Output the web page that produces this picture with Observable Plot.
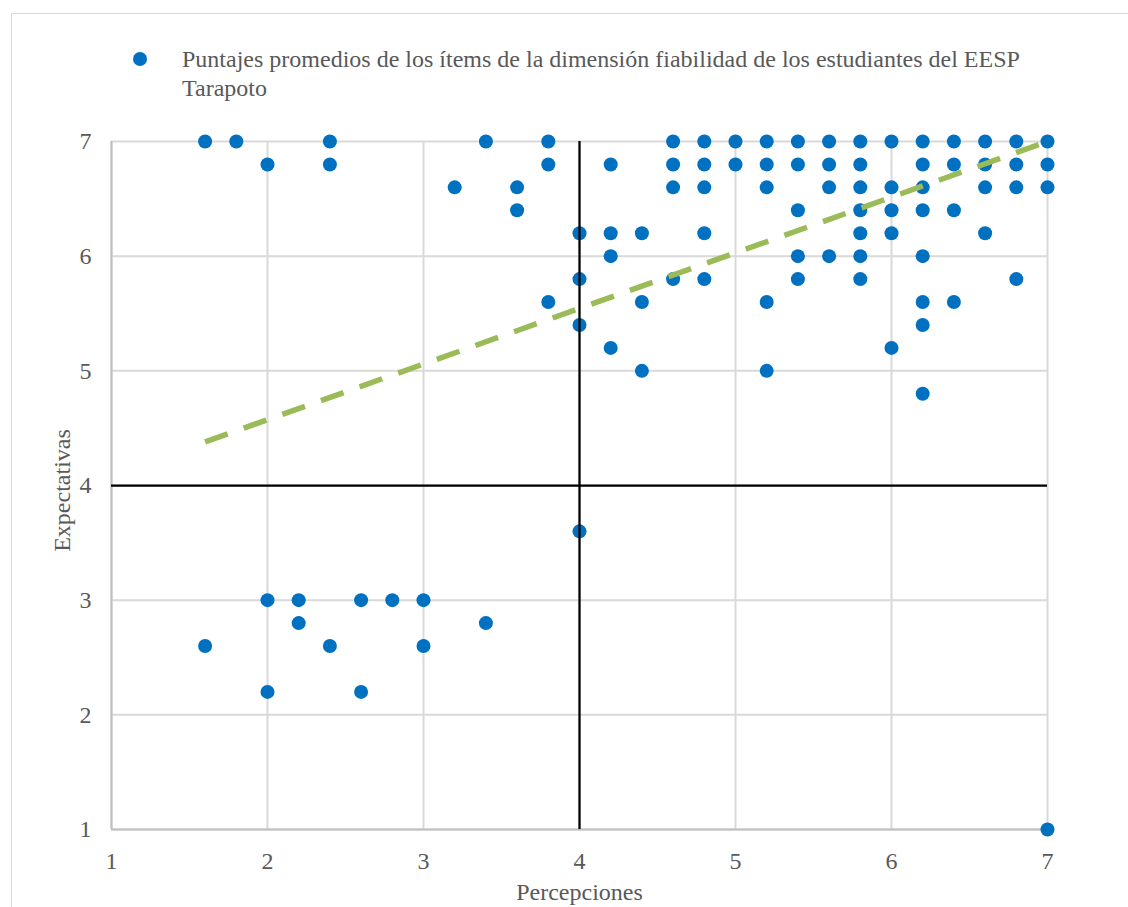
<!DOCTYPE html>
<html>
<head>
<meta charset="utf-8">
<script src="https://cdn.jsdelivr.net/npm/d3@7"></script>
<script src="https://cdn.jsdelivr.net/npm/@observablehq/plot@0.6"></script>
<style>
  body { margin: 0; background: #fff; overflow: hidden; font-family: "Liberation Serif", "Times New Roman", serif; }
  #wrap { position: relative; width: 1128px; height: 907px; }
  #frame { position: absolute; left: 11px; top: 13px; width: 1300px; height: 1100px; border: 1px solid #D9D9D9; pointer-events: none; z-index: 2; }
  #legend { position: relative; height: 110px; color: #595959; font-size: 24px; }
  #legend .dot { position: absolute; left: 133px; top: 52px; width: 14px; height: 14px; border-radius: 50%; background: #0070C0; }
  #legend .txt { position: absolute; left: 182px; top: 45px; line-height: 29px; white-space: nowrap; }
</style>
</head>
<body>
<div id="wrap">
  <div id="frame"></div>
  <div id="legend">
    <div class="dot"></div>
    <div class="txt">Puntajes promedios de los ítems de la dimensión fiabilidad de los estudiantes del EESP<br>Tarapoto</div>
  </div>
  <div id="chart"></div>
</div>
<script>
// Average perception (x) and expectation (y) score per student, grouped by expectation row
const percepciones = [
  1.6, 1.8, 2.4, 3.4, 3.8, 4.6, 4.8, 5.0, 5.2, 5.4, 5.6, 5.8, 6.0, 6.2, 6.4, 6.6, 6.8, 7.0,
  2.0, 2.4, 3.8, 4.2, 4.6, 4.8, 5.0, 5.2, 5.4, 5.6, 5.8, 6.2, 6.4, 6.6, 6.8, 7.0,
  3.2, 3.6, 4.6, 4.8, 5.2, 5.6, 5.8, 6.0, 6.2, 6.6, 6.8, 7.0,
  3.6, 5.4, 5.8, 6.0, 6.2, 6.4,
  4.0, 4.2, 4.4, 4.8, 5.8, 6.0, 6.6,
  4.2, 5.4, 5.6, 5.8, 6.2,
  4.0, 4.6, 4.8, 5.4, 5.8, 6.8,
  3.8, 4.4, 5.2, 6.2, 6.4,
  4.0, 6.2,
  4.2, 6.0,
  4.4, 5.2,
  6.2,
  4.0,
  2.0, 2.2, 2.6, 2.8, 3.0,
  2.2, 3.4,
  1.6, 2.4, 3.0,
  2.0, 2.6,
  7.0
];
const expectativas = [
  7.0, 7.0, 7.0, 7.0, 7.0, 7.0, 7.0, 7.0, 7.0, 7.0, 7.0, 7.0, 7.0, 7.0, 7.0, 7.0, 7.0, 7.0,
  6.8, 6.8, 6.8, 6.8, 6.8, 6.8, 6.8, 6.8, 6.8, 6.8, 6.8, 6.8, 6.8, 6.8, 6.8, 6.8,
  6.6, 6.6, 6.6, 6.6, 6.6, 6.6, 6.6, 6.6, 6.6, 6.6, 6.6, 6.6,
  6.4, 6.4, 6.4, 6.4, 6.4, 6.4,
  6.2, 6.2, 6.2, 6.2, 6.2, 6.2, 6.2,
  6.0, 6.0, 6.0, 6.0, 6.0,
  5.8, 5.8, 5.8, 5.8, 5.8, 5.8,
  5.6, 5.6, 5.6, 5.6, 5.6,
  5.4, 5.4,
  5.2, 5.2,
  5.0, 5.0,
  4.8,
  3.6,
  3.0, 3.0, 3.0, 3.0, 3.0,
  2.8, 2.8,
  2.6, 2.6, 2.6,
  2.2, 2.2,
  1.0
];

// Linear trend line endpoints
const trendX = [1.6, 7.0];
const trendY = [4.38, 7.0];

// Axis ticks and quadrant divider (scale midpoint)
const ticks = [1, 2, 3, 4, 5, 6, 7];
const divider = 4;

const axisTitleX = "Percepciones";
const axisTitleY = "Expectativas";

const points = percepciones.map((p, i) => ({x: p, y: expectativas[i]}));
const trend = trendX.map((x, i) => ({x, y: trendY[i]}));

const chart = Plot.plot({
  width: 1128,
  height: 797,
  marginTop: 31,
  marginBottom: 78,
  marginLeft: 111,
  marginRight: 81,
  style: {fontFamily: "'Liberation Serif', 'Times New Roman', serif", fontSize: "24px", color: "#595959", background: "transparent"},
  x: {domain: [1, 7]},
  y: {domain: [1, 7]},
  marks: [
    Plot.gridX(ticks, {stroke: "#D9D9D9", strokeOpacity: 1, strokeWidth: 2}),
    Plot.gridY(ticks, {stroke: "#D9D9D9", strokeOpacity: 1, strokeWidth: 2}),
    Plot.ruleX([1], {stroke: "#BFBFBF", strokeWidth: 2}),
    Plot.ruleY([1], {stroke: "#BFBFBF", strokeWidth: 2}),
    Plot.axisX(ticks, {tickSize: 0, tickPadding: 22, tickFormat: d => String(d), label: null, fontSize: 24, color: "#595959"}),
    Plot.axisY(ticks, {tickSize: 0, tickPadding: 20, tickFormat: d => String(d), label: null, fontSize: 24, color: "#595959"}),
    Plot.dot(points, {x: "x", y: "y", r: 7, fill: "#0070C0", stroke: "none"}),
    Plot.ruleX([divider], {stroke: "#000", strokeWidth: 2.25}),
    Plot.ruleY([divider], {stroke: "#000", strokeWidth: 2.25}),
    Plot.line(trend, {x: "x", y: "y", stroke: "#9BBB59", strokeWidth: 5.5, strokeDasharray: "24,17", strokeLinecap: "butt"}),
    Plot.text([axisTitleX], {frameAnchor: "bottom", dy: 70, fontSize: 24, fill: "#595959"}),
    Plot.text([axisTitleY], {frameAnchor: "left", textAnchor: "middle", dx: -49, dy: 5, rotate: -90, fontSize: 24, fill: "#595959"})
  ]
});
document.getElementById("chart").append(chart);
</script>
</body>
</html>
